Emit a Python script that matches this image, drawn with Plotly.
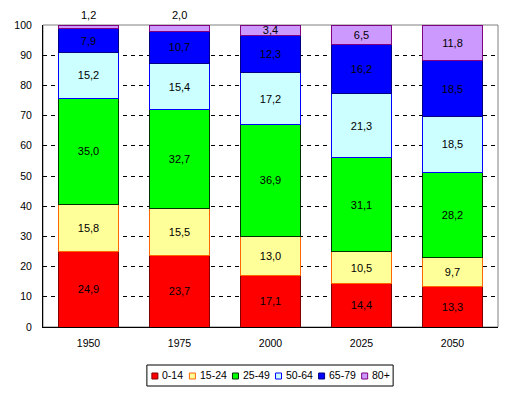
import plotly.graph_objects as go

years = ["1950", "1975", "2000", "2025", "2050"]
age_groups = ["0-14", "15-24", "25-49", "50-64", "65-79", "80+"]
v_0_14 = [24.9, 23.7, 17.1, 14.4, 13.3]
v_15_24 = [15.8, 15.5, 13.0, 10.5, 9.7]
v_25_49 = [35.0, 32.7, 36.9, 31.1, 28.2]
v_50_64 = [15.2, 15.4, 17.2, 21.3, 18.5]
v_65_79 = [7.9, 10.7, 12.3, 16.2, 18.5]
v_80p = [1.2, 2.0, 3.4, 6.5, 11.8]
y_ticks = [0, 10, 20, 30, 40, 50, 60, 70, 80, 90, 100]

series = [v_0_14, v_15_24, v_25_49, v_50_64, v_65_79, v_80p]
fills = ["#FF0000", "#FFFF99", "#00FF00", "#CCFFFF", "#0000FF", "#CC99FF"]
lines = ["#800000", "#FF6600", "#003300", "#0000FF", "#000080", "#800080"]

FONT = "Arial, Liberation Sans, sans-serif"
BODY = 8  # default page body margin
W, H = 513 - BODY, 395 - BODY
L, R, T, B = 43, 498, 25, 327  # plot area in screen px

fig = go.Figure()
annotations = []
for name, vals, fc, lc in zip(age_groups, series, fills, lines):
    small = [v < 3 for v in vals]
    text = ["" if s else f"{v:.1f}".replace(".", ",") for v, s in zip(vals, small)]
    fig.add_trace(go.Bar(
        x=years, y=vals, name=name, text=text, textposition="inside",
        insidetextanchor="middle", textangle=0, constraintext="none",
        insidetextfont=dict(family=FONT, size=11, color="black"),
        cliponaxis=False,
        marker=dict(color=fc, line=dict(color=lc, width=1)),
        width=0.66, showlegend=False, hoverinfo="skip",
    ))

# small top segments: label just above the stack (x as category index)
totals = [sum(col) for col in zip(*series)]
for i, (v, tot) in enumerate(zip(v_80p, totals)):
    if v < 3:
        annotations.append(dict(x=i, y=tot, xref="x", yref="y", yanchor="bottom",
                                yshift=2, showarrow=False,
                                text=f"{v:.1f}".replace(".", ","),
                                font=dict(family=FONT, size=11, color="black")))


def pxx(px):
    return (px - L) / (R - L)


def pxy(py):
    return (B - py) / (B - T)


shapes = [dict(type="rect", xref="paper", yref="paper", x0=0, x1=1, y0=0, y1=1,
               line=dict(color="#808080", width=1), layer="below")]

# manual legend (compact, like the original)
char_w = {"-": 3.33, "+": 5.84}


def text_w(s):
    return sum(char_w.get(c, 5.56) for c in s)


sq, gap_txt, gap_item, pad = 6, 3.5, 8, 5
widths = [sq + gap_txt + text_w(n) for n in age_groups]
total = sum(widths) + gap_item * (len(widths) - 1) + 2 * pad
cx = 270
bx0, bx1 = cx - total / 2, cx + total / 2
by0, by1 = 365, 386
shapes.append(dict(type="rect", xref="paper", yref="paper",
                   x0=pxx(bx0), x1=pxx(bx1), y0=pxy(by1), y1=pxy(by0),
                   line=dict(color="black", width=1), fillcolor="white"))
xcur = bx0 + pad
ymid = (by0 + by1) / 2
for n, fc, lc, w in zip(age_groups, fills, lines, widths):
    shapes.append(dict(type="rect", xref="paper", yref="paper",
                       x0=pxx(xcur), x1=pxx(xcur + sq), y0=pxy(ymid + 3.5), y1=pxy(ymid - 2.5),
                       line=dict(color=lc, width=1), fillcolor=fc))
    annotations.append(dict(xref="paper", yref="paper", x=pxx(xcur + sq + gap_txt), y=pxy(ymid),
                            text=n, showarrow=False, xanchor="left", yanchor="middle",
                            xshift=-1, font=dict(family=FONT, size=10.5, color="black")))
    xcur += w + gap_item

fig.update_layout(
    width=W, height=H,
    margin=dict(l=L - BODY, r=513 - R, t=T - BODY, b=395 - B, pad=0, autoexpand=False),
    barmode="stack", bargap=0.34,
    paper_bgcolor="white", plot_bgcolor="white",
    font=dict(family=FONT, size=10, color="black"),
    showlegend=False,
    shapes=shapes, annotations=annotations,
    xaxis=dict(type="category", range=[-0.5, len(years) - 0.5], autorange=False,
               automargin=False,
               showline=True, linecolor="black", linewidth=1,
               showgrid=False, ticks="outside", ticklen=6, tickcolor="rgba(0,0,0,0)",
               tickfont=dict(family=FONT, size=10.5, color="black"), fixedrange=True),
    yaxis=dict(range=[0, 100], autorange=False, automargin=False, tickvals=y_ticks,
               showline=True, linecolor="black", linewidth=1,
               showgrid=True, gridcolor="black", gridwidth=1, griddash="4px,4px",
               zeroline=False, ticks="outside", ticklen=8, tickcolor="rgba(0,0,0,0)",
               tickfont=dict(family=FONT, size=10.5, color="black"), fixedrange=True),
)

fig.write_html("out.html")
